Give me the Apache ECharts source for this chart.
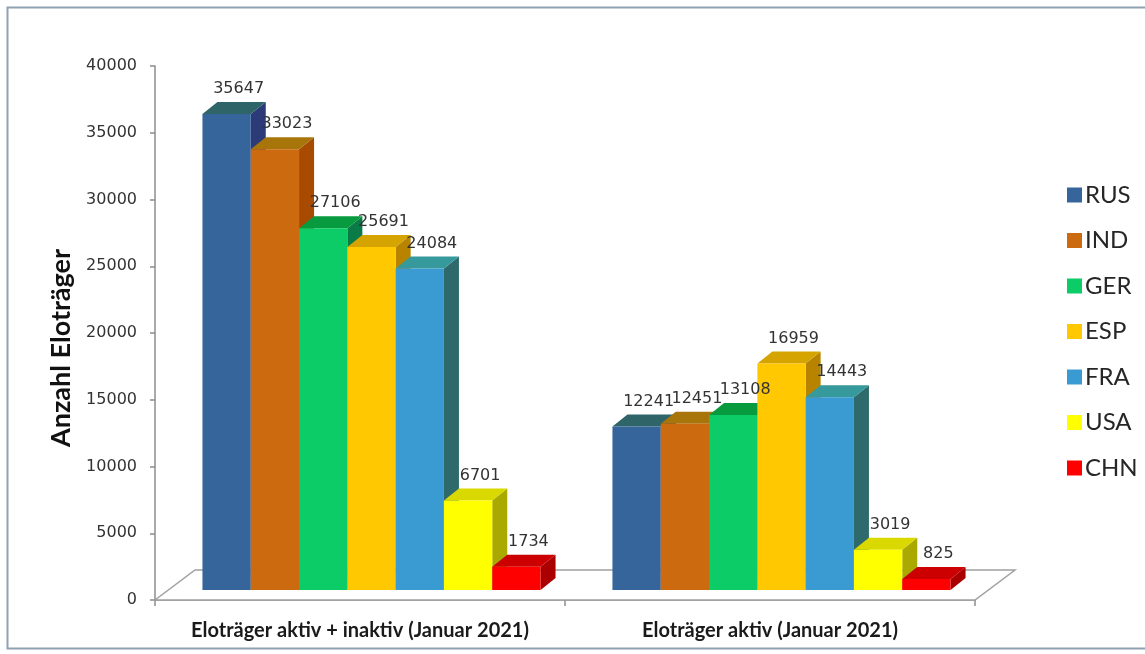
<!DOCTYPE html>
<html>
<head>
<meta charset="utf-8">
<script src="https://cdn.jsdelivr.net/npm/echarts@6/dist/echarts.min.js"></script>
<style>
html, body { margin: 0; padding: 0; background: #fff; }
#chart { width: 1145px; height: 654px; }
</style>
</head>
<body>
<div id="chart"></div>
<script>
// Categories and counts per country
const categories = ['Eloträger aktiv + inaktiv (Januar 2021)', 'Eloträger aktiv (Januar 2021)'];
const countries = ['RUS', 'IND', 'GER', 'ESP', 'FRA', 'USA', 'CHN'];
const RUS = [35647, 12241];
const IND = [33023, 12451];
const GER = [27106, 13108];
const ESP = [25691, 16959];
const FRA = [24084, 14443];
const USA = [6701, 3019];
const CHN = [1734, 825];
const seriesValues = [RUS, IND, GER, ESP, FRA, USA, CHN];
const yAxisMin = 0, yAxisMax = 40000, yAxisStep = 5000;

// Face colours for the pseudo-3D columns: front, top, side
const shades = [
  { front: '#35659b', top: '#2f6468', side: '#2c3a78' },
  { front: '#cc6a10', top: '#a8750a', side: '#a84a00' },
  { front: '#0ccc68', top: '#079a3e', side: '#0a7a46' },
  { front: '#ffc800', top: '#d6a400', side: '#b88400' },
  { front: '#3a9ad2', top: '#36999c', side: '#2e6a6c' },
  { front: '#ffff00', top: '#d9d900', side: '#a9a900' },
  { front: '#ff0000', top: '#cc0000', side: '#aa0000' }
];

// Perspective constants (pixels)
const BAR_FRAC = 0.1178;     // column width as a share of the category band
const SHIFT_X = 11.5, SHIFT_Y = -10;  // columns stand a little behind the floor's front edge
const DX = 15, DY = -12;     // column depth
const FX = 40, FY = -30;     // floor depth
const LABEL_DX = 12, LABEL_DY = -25;

// Front-face geometry of column i in category cat
function columnBox(api, cat, v, i) {
  const p0 = api.coord([cat, 0]);
  const p1 = api.coord([cat, v]);
  const band = api.size([1, 0])[0];
  const w = band * BAR_FRAC;
  const x = p0[0] - w * countries.length / 2 + i * w + SHIFT_X;
  return { x: x, w: w, yB: p0[1] + SHIFT_Y, yT: p1[1] + SHIFT_Y };
}

function columnRenderer(i) {
  return function (params, api) {
    const b = columnBox(api, api.value(0), api.value(1), i);
    const x = b.x, w = b.w, yT = b.yT, yB = b.yB;
    const c = shades[i];
    return {
      type: 'group',
      children: [
        { type: 'polygon', shape: { points: [[x + w, yT], [x + w + DX, yT + DY], [x + w + DX, yB + DY], [x + w, yB]] }, style: { fill: c.side } },
        { type: 'polygon', shape: { points: [[x, yT], [x + DX, yT + DY], [x + w + DX, yT + DY], [x + w, yT]] }, style: { fill: c.top } },
        { type: 'rect', shape: { x: x, y: yT, width: w, height: yB - yT }, style: { fill: c.front } }
      ]
    };
  };
}

// Value labels are drawn in their own layer so no column covers them
function labelRenderer(params, api) {
  const v = api.value(1);
  const b = columnBox(api, api.value(0), v, api.value(2));
  return {
    type: 'text', x: b.x + b.w / 2 + LABEL_DX, y: b.yT + LABEL_DY,
    style: { text: String(v), fill: '#333333', font: '16px "DejaVu Sans"', align: 'center', verticalAlign: 'middle' }
  };
}

function floorRenderer(params, api) {
  const a = api.coord([0, 0]);
  const b = api.coord([categories.length - 1, 0]);
  const band = api.size([1, 0])[0];
  const left = a[0] - band / 2, right = b[0] + band / 2, y = a[1];
  return {
    type: 'polygon',
    shape: { points: [[left, y], [left + FX, y + FY], [right + FX, y + FY], [right, y]] },
    style: { fill: '#ffffff', stroke: '#a0a0a0', lineWidth: 1.5 }
  };
}

const series = [{
  type: 'custom',
  name: 'floor',
  renderItem: floorRenderer,
  data: [[0, 0]],
  z: 1,
  silent: true
}];
const labelData = [];
countries.forEach(function (name, i) {
  series.push({
    type: 'custom',
    name: name,
    renderItem: columnRenderer(i),
    itemStyle: { color: shades[i].front },
    data: seriesValues[i].map(function (v, k) { return [k, v]; }),
    z: 2
  });
  seriesValues[i].forEach(function (v, k) { labelData.push([k, v, i]); });
});
series.push({
  type: 'custom',
  name: 'labels',
  renderItem: labelRenderer,
  data: labelData,
  z: 3,
  silent: true
});

const chart = echarts.init(document.getElementById('chart'), null, { renderer: 'canvas' });
chart.setOption({
  animation: false,
  backgroundColor: '#ffffff',
  graphic: [{
    type: 'rect',
    shape: { x: 7.5, y: 7.5, width: 1160, height: 641 },
    style: { fill: 'none', stroke: '#8fa2b2', lineWidth: 2 },
    silent: true
  }],
  grid: { left: 155, right: 170, top: 66, bottom: 54 },
  legend: {
    data: countries,
    orient: 'vertical',
    left: 1062,
    top: 178,
    icon: 'rect',
    itemWidth: 15,
    itemHeight: 15,
    itemGap: 21.5,
    textStyle: { fontFamily: 'Lato', fontSize: 24, color: '#262626', padding: [0, 0, 0, -2] }
  },
  xAxis: {
    type: 'category',
    data: categories,
    axisLine: { lineStyle: { color: '#8c8c8c', width: 1.5 } },
    axisTick: { show: true, length: 6, lineStyle: { color: '#8c8c8c', width: 1.5 } },
    axisLabel: { interval: 0, hideOverlap: false, margin: 21, fontFamily: 'Lato', fontWeight: 'bold', fontSize: 20, color: '#1a1a1a' }
  },
  yAxis: {
    type: 'value',
    min: yAxisMin,
    max: yAxisMax,
    interval: yAxisStep,
    name: 'Anzahl Eloträger',
    nameLocation: 'middle',
    nameGap: 79,
    nameTextStyle: { fontFamily: 'Lato', fontWeight: 'bold', fontSize: 27, color: '#111', padding: [0, 30, 0, 0] },
    axisLine: { show: true, lineStyle: { color: '#8c8c8c', width: 1.5 } },
    axisTick: { show: true, length: 5, lineStyle: { color: '#8c8c8c', width: 1.5 } },
    splitLine: { show: false },
    axisLabel: {
      margin: 18, fontFamily: 'DejaVu Sans', fontSize: 16, color: '#333333',
      formatter: function (v) { return String(v); }
    }
  },
  series: series
});
</script>
</body>
</html>
